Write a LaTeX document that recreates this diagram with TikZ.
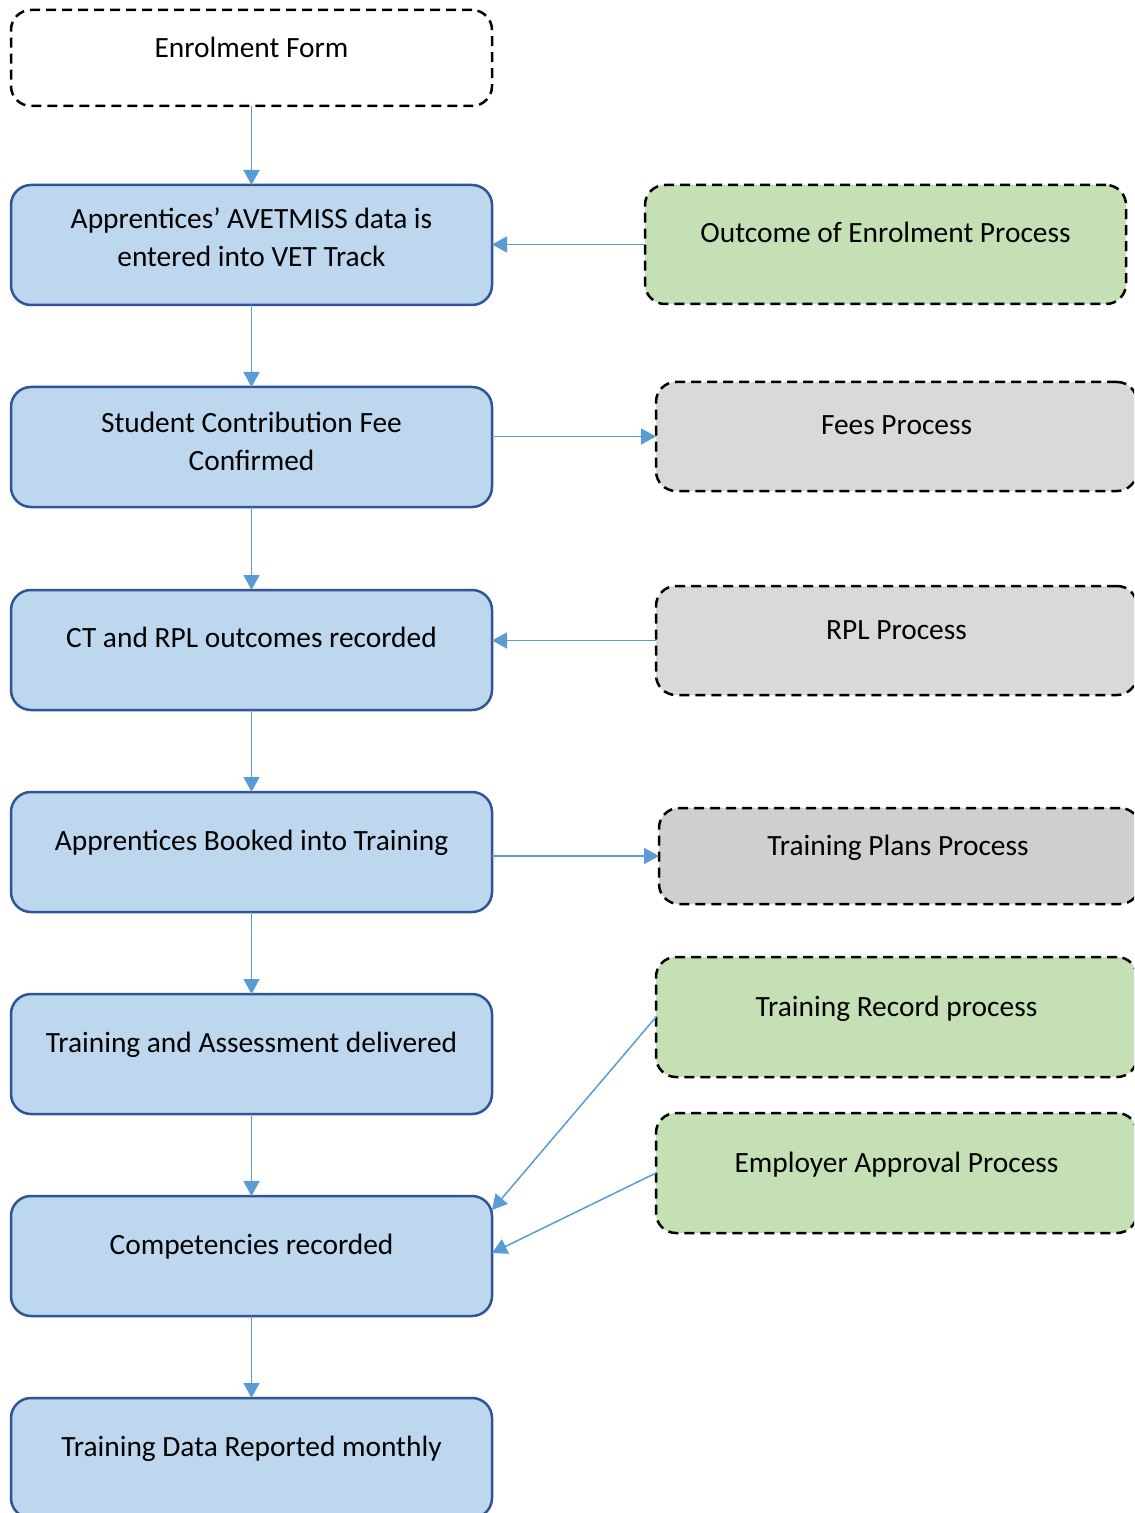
\documentclass[tikz,border=0pt]{standalone}
\usepackage{fontspec}
\setmainfont{Carlito}
\usetikzlibrary{arrows.meta,calc}
\definecolor{stepfill}{HTML}{BDD7EE}
\definecolor{stepline}{HTML}{2F5597}
\definecolor{flow}{HTML}{5B9BD5}
\definecolor{greenfill}{HTML}{C5E0B4}
\definecolor{greyfill}{HTML}{D9D9D9}
\definecolor{greyfilltwo}{HTML}{D0CECE}
\tikzset{
  boxbase/.style={rectangle, rounded corners=10pt, inner sep=0pt, outer sep=0pt,
    minimum width=240.5pt, minimum height=60pt},
  stepbox/.style={boxbase, draw=stepline, fill=stepfill, line width=1.25pt},
  extbox/.style={boxbase, draw=black, line width=1.25pt, dash pattern=on 5pt off 3pt},
  txt/.style={font=\fontsize{14.7}{19}\selectfont, align=center, inner sep=0pt, anchor=base},
  arr/.style={draw=flow, line width=0.75pt, -{Triangle[length=7.5pt,width=8pt]}}
}
\begin{document}
\begin{tikzpicture}[x=0.5pt,y=-0.5pt]
\path[use as bounding box] (0,0) rectangle (1134,1513);
\clip (0,0) rectangle (1134,1513);
\fill[white] (0,0) rectangle (1134,1513);

% main column of steps
\node[extbox, fill=white, minimum height=48pt] (form) at (251.5,58) {};
\node[stepbox] (s1) at (251.5,245) {};
\node[stepbox] (s2) at (251.5,447) {};
\node[stepbox] (s3) at (251.5,650) {};
\node[stepbox] (s4) at (251.5,852) {};
\node[stepbox] (s5) at (251.5,1054) {};
\node[stepbox] (s6) at (251.5,1256) {};
\node[stepbox] (s7) at (251.5,1458) {};

% step labels (base anchor sits on the last line)
\node[txt] (tform) at (251.5,58) {Enrolment Form};
\node[txt] (t1) at (251.5,267) {Apprentices’ AVETMISS data is\\entered into VET Track};
\node[txt] (t2) at (251.5,470) {Student Contribution Fee\\Confirmed};
\node[txt] (t3) at (251.5,647) {CT and RPL outcomes recorded};
\node[txt] (t4) at (251.5,850) {Apprentices Booked into Training};
\node[txt] (t5) at (251.5,1052) {Training and Assessment delivered};
\node[txt] (t6) at (251.5,1254) {Competencies recorded};
\node[txt] (t7) at (251.5,1456) {Training Data Reported monthly};

% related processes
\node[extbox, fill=greenfill, minimum height=59.5pt] (outcome) at (885.5,244.5) {};
\node[extbox, fill=greyfill, minimum height=54.5pt] (fees) at (896.5,436.5) {};
\node[extbox, fill=greyfill, minimum height=54.5pt] (rpl) at (896.5,640.5) {};
\node[extbox, fill=greyfilltwo, minimum height=48pt] (plans) at (899.5,856) {};
\node[extbox, fill=greenfill] (record) at (896.5,1017) {};
\node[extbox, fill=greenfill] (employer) at (896.5,1173) {};

\node[txt] (toutcome) at (885.5,243) {Outcome of Enrolment Process};
\node[txt] (tfees) at (896.5,435) {Fees Process};
\node[txt] (trpl) at (896.5,639) {RPL Process};
\node[txt] (tplans) at (898,855) {Training Plans Process};
\node[txt] (trecord) at (896.5,1016) {Training Record process};
\node[txt] (temployer) at (896.5,1172) {Employer Approval Process};

% flow down the column
\draw[arr] (form.south) -- (s1.north);
\draw[arr] (s1.south) -- (s2.north);
\draw[arr] (s2.south) -- (s3.north);
\draw[arr] (s3.south) -- (s4.north);
\draw[arr] (s4.south) -- (s5.north);
\draw[arr] (s5.south) -- (s6.north);
\draw[arr] (s6.south) -- (s7.north);

% links to and from the side processes
\draw[arr] (outcome.west) -- (outcome.west -| s1.east);
\draw[arr] (s2.east |- fees.west) -- (fees.west);
\draw[arr] (rpl.west) -- (rpl.west -| s3.east);
\draw[arr] (s4.east |- plans.west) -- (plans.west);
\draw[arr] (record.west) -- ($(s6.north east)+(0,14)$);
\draw[arr] (employer.west) -- ($(s6.east)+(0,-3)$);
\end{tikzpicture}
\end{document}
